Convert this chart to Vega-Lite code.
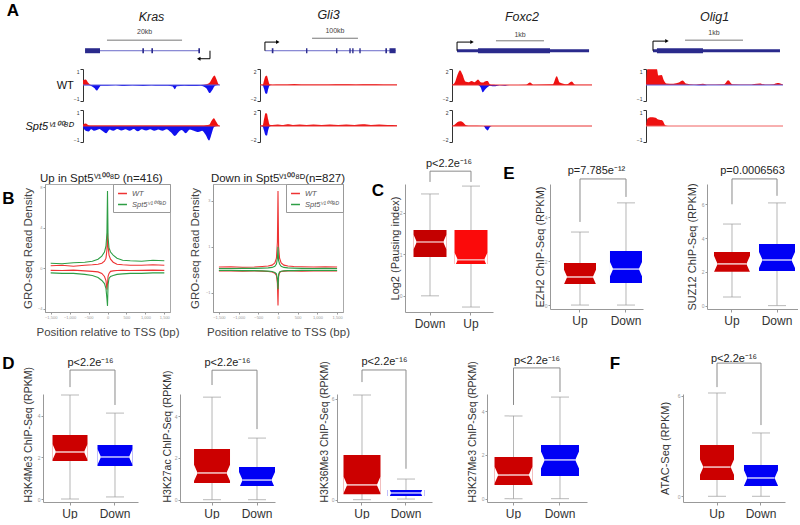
{
"$schema": "https://vega.github.io/schema/vega-lite/v6.json",
"padding": {"left": 0, "top": 2, "right": 0, "bottom": 0},
"config": {
 "font": "Liberation Sans",
 "view": {"stroke": null},
 "axis": {"grid": false, "domainColor": "#999999", "tickColor": "#999999", "labelColor": "#999999", "labelFontSize": 5, "tickSize": 2, "labelPadding": 1, "titleFontWeight": "normal", "titleFontSize": 11, "titleColor": "#333333"},
 "title": {"fontWeight": "normal", "fontSize": 11, "color": "#222222", "anchor": "middle", "frame": "group"}
},
"datasets": {
 "gm": [
  {"g":"Kras","k":"intron","x1":1.5,"x2":85.4},
  {"g":"Kras","k":"exon","x1":1.5,"x2":12.4},
  {"g":"Kras","k":"exon","x1":43.3,"x2":44.5},
  {"g":"Kras","k":"exon","x1":49.9,"x2":51.1},
  {"g":"Kras","k":"exon","x1":84.2,"x2":85.4},
  {"g":"Kras","k":"scale","x1":17.5,"x2":72.3},
  {"g":"Kras","k":"label","x1":45,"t":"20kb"},
  {"g":"Kras","k":"tss","x1":92.7,"x2":84.5},
  {"g":"Gli3","k":"intron","x1":3.6,"x2":99},
  {"g":"Gli3","k":"exon","x1":8.6,"x2":9.8},
  {"g":"Gli3","k":"exon","x1":33.6,"x2":34.6},
  {"g":"Gli3","k":"exon","x1":55.5,"x2":56.5},
  {"g":"Gli3","k":"exon","x1":65.2,"x2":66.2},
  {"g":"Gli3","k":"exon","x1":67.3,"x2":68.3},
  {"g":"Gli3","k":"exon","x1":72.5,"x2":73.5},
  {"g":"Gli3","k":"exon","x1":91.5,"x2":92.7},
  {"g":"Gli3","k":"exon","x1":94.5,"x2":99},
  {"g":"Gli3","k":"scale","x1":38,"x2":71.5},
  {"g":"Gli3","k":"label","x1":54.7,"t":"100kb"},
  {"g":"Gli3","k":"tss","x1":3.6,"x2":13},
  {"g":"Foxc2","k":"utr","x1":3.6,"x2":97.9},
  {"g":"Foxc2","k":"exon","x1":18.6,"x2":70},
  {"g":"Foxc2","k":"scale","x1":31.4,"x2":65.7},
  {"g":"Foxc2","k":"label","x1":48.6,"t":"1kb"},
  {"g":"Foxc2","k":"tss","x1":3.6,"x2":14.3},
  {"g":"Olig1","k":"utr","x1":5.1,"x2":97.8},
  {"g":"Olig1","k":"exon","x1":8,"x2":41.6},
  {"g":"Olig1","k":"scale","x1":28.5,"x2":70.8},
  {"g":"Olig1","k":"label","x1":49.6,"t":"1kb"},
  {"g":"Olig1","k":"tss","x1":5.1,"x2":15.3}
 ],
 "trk": [
  {"g":"Kras","s":"WT","x":0,"p":0.3,"m":0},
  {"g":"Kras","s":"WT","x":2,"p":0.35,"m":-0.02},
  {"g":"Kras","s":"WT","x":4,"p":0.12,"m":-0.02},
  {"g":"Kras","s":"WT","x":6,"p":0,"m":-0.06},
  {"g":"Kras","s":"WT","x":8.5,"p":0,"m":-0.2},
  {"g":"Kras","s":"WT","x":10,"p":0,"m":-0.35},
  {"g":"Kras","s":"WT","x":11.5,"p":0,"m":-0.2},
  {"g":"Kras","s":"WT","x":13,"p":0,"m":-0.04},
  {"g":"Kras","s":"WT","x":18,"p":0,"m":-0.05},
  {"g":"Kras","s":"WT","x":24,"p":0,"m":-0.02},
  {"g":"Kras","s":"WT","x":30,"p":0,"m":-0.07},
  {"g":"Kras","s":"WT","x":36,"p":0,"m":-0.03},
  {"g":"Kras","s":"WT","x":44,"p":0,"m":-0.06},
  {"g":"Kras","s":"WT","x":50,"p":0,"m":-0.03},
  {"g":"Kras","s":"WT","x":56,"p":0,"m":-0.05},
  {"g":"Kras","s":"WT","x":62,"p":0,"m":-0.04},
  {"g":"Kras","s":"WT","x":65.5,"p":0,"m":-0.1},
  {"g":"Kras","s":"WT","x":67,"p":0,"m":-0.26},
  {"g":"Kras","s":"WT","x":68.5,"p":0,"m":-0.08},
  {"g":"Kras","s":"WT","x":74,"p":0,"m":-0.04},
  {"g":"Kras","s":"WT","x":80,"p":0,"m":-0.06},
  {"g":"Kras","s":"WT","x":86,"p":0,"m":-0.04},
  {"g":"Kras","s":"WT","x":90,"p":0.04,"m":-0.2},
  {"g":"Kras","s":"WT","x":92.5,"p":0.15,"m":-0.5},
  {"g":"Kras","s":"WT","x":94.5,"p":0.45,"m":-0.3},
  {"g":"Kras","s":"WT","x":96,"p":0.6,"m":-0.08},
  {"g":"Kras","s":"WT","x":97.5,"p":0.35,"m":-0.02},
  {"g":"Kras","s":"WT","x":99,"p":0.05,"m":0},
  {"g":"Kras","s":"WT","x":100,"p":0,"m":0},
  {"g":"Kras","s":"Spt5","x":0,"p":0.1,"m":-0.1},
  {"g":"Kras","s":"Spt5","x":2,"p":0.15,"m":-0.3},
  {"g":"Kras","s":"Spt5","x":4,"p":0.05,"m":-0.35},
  {"g":"Kras","s":"Spt5","x":6,"p":0.03,"m":-0.2},
  {"g":"Kras","s":"Spt5","x":8,"p":0.03,"m":-0.3},
  {"g":"Kras","s":"Spt5","x":10,"p":0.03,"m":-0.25},
  {"g":"Kras","s":"Spt5","x":12,"p":0.03,"m":-0.18},
  {"g":"Kras","s":"Spt5","x":14,"p":0.03,"m":-0.3},
  {"g":"Kras","s":"Spt5","x":17,"p":0.03,"m":-0.45},
  {"g":"Kras","s":"Spt5","x":19.5,"p":0.03,"m":-0.22},
  {"g":"Kras","s":"Spt5","x":22,"p":0.03,"m":-0.3},
  {"g":"Kras","s":"Spt5","x":25,"p":0.03,"m":-0.18},
  {"g":"Kras","s":"Spt5","x":28,"p":0.03,"m":-0.28},
  {"g":"Kras","s":"Spt5","x":31,"p":0.03,"m":-0.2},
  {"g":"Kras","s":"Spt5","x":34,"p":0.03,"m":-0.3},
  {"g":"Kras","s":"Spt5","x":37,"p":0.03,"m":-0.18},
  {"g":"Kras","s":"Spt5","x":40,"p":0.03,"m":-0.33},
  {"g":"Kras","s":"Spt5","x":43,"p":0.03,"m":-0.2},
  {"g":"Kras","s":"Spt5","x":46,"p":0.03,"m":-0.28},
  {"g":"Kras","s":"Spt5","x":49,"p":0.03,"m":-0.2},
  {"g":"Kras","s":"Spt5","x":52,"p":0.03,"m":-0.3},
  {"g":"Kras","s":"Spt5","x":55,"p":0.03,"m":-0.22},
  {"g":"Kras","s":"Spt5","x":58,"p":0.03,"m":-0.3},
  {"g":"Kras","s":"Spt5","x":61,"p":0.03,"m":-0.2},
  {"g":"Kras","s":"Spt5","x":64,"p":0.03,"m":-0.38},
  {"g":"Kras","s":"Spt5","x":67,"p":0.03,"m":-0.62},
  {"g":"Kras","s":"Spt5","x":69.5,"p":0.03,"m":-0.4},
  {"g":"Kras","s":"Spt5","x":72,"p":0.03,"m":-0.25},
  {"g":"Kras","s":"Spt5","x":75,"p":0.03,"m":-0.45},
  {"g":"Kras","s":"Spt5","x":78,"p":0.03,"m":-0.22},
  {"g":"Kras","s":"Spt5","x":81,"p":0.03,"m":-0.3},
  {"g":"Kras","s":"Spt5","x":84,"p":0.03,"m":-0.38},
  {"g":"Kras","s":"Spt5","x":87,"p":0.03,"m":-0.3},
  {"g":"Kras","s":"Spt5","x":89.5,"p":0.05,"m":-0.55},
  {"g":"Kras","s":"Spt5","x":92,"p":0.08,"m":-0.9},
  {"g":"Kras","s":"Spt5","x":94,"p":0.35,"m":-0.45},
  {"g":"Kras","s":"Spt5","x":95.5,"p":0.48,"m":-0.08},
  {"g":"Kras","s":"Spt5","x":97,"p":0.3,"m":-0.02},
  {"g":"Kras","s":"Spt5","x":99,"p":0.05,"m":0},
  {"g":"Kras","s":"Spt5","x":100,"p":0,"m":0},
  {"g":"Gli3","s":"WT","x":0,"p":0.03,"m":0},
  {"g":"Gli3","s":"WT","x":2,"p":0.05,"m":-0.05},
  {"g":"Gli3","s":"WT","x":3,"p":0.6,"m":-0.5},
  {"g":"Gli3","s":"WT","x":4,"p":1.1,"m":-1.05},
  {"g":"Gli3","s":"WT","x":5,"p":1.15,"m":-1.1},
  {"g":"Gli3","s":"WT","x":6,"p":0.6,"m":-0.5},
  {"g":"Gli3","s":"WT","x":7,"p":0.1,"m":-0.05},
  {"g":"Gli3","s":"WT","x":9,"p":0.04,"m":0},
  {"g":"Gli3","s":"WT","x":15,"p":0.06,"m":0},
  {"g":"Gli3","s":"WT","x":20,"p":0.05,"m":0},
  {"g":"Gli3","s":"WT","x":25,"p":0.12,"m":0},
  {"g":"Gli3","s":"WT","x":30,"p":0.05,"m":0},
  {"g":"Gli3","s":"WT","x":40,"p":0.07,"m":0},
  {"g":"Gli3","s":"WT","x":50,"p":0.06,"m":0},
  {"g":"Gli3","s":"WT","x":60,"p":0.08,"m":0},
  {"g":"Gli3","s":"WT","x":70,"p":0.05,"m":0},
  {"g":"Gli3","s":"WT","x":80,"p":0.08,"m":0},
  {"g":"Gli3","s":"WT","x":90,"p":0.06,"m":0},
  {"g":"Gli3","s":"WT","x":100,"p":0.05,"m":0},
  {"g":"Gli3","s":"Spt5","x":0,"p":0.05,"m":0},
  {"g":"Gli3","s":"Spt5","x":2,"p":0.1,"m":-0.08},
  {"g":"Gli3","s":"Spt5","x":3,"p":0.9,"m":-0.6},
  {"g":"Gli3","s":"Spt5","x":4,"p":1.6,"m":-1.15},
  {"g":"Gli3","s":"Spt5","x":5,"p":1.55,"m":-1.2},
  {"g":"Gli3","s":"Spt5","x":6,"p":0.8,"m":-0.5},
  {"g":"Gli3","s":"Spt5","x":7,"p":0.15,"m":-0.05},
  {"g":"Gli3","s":"Spt5","x":9,"p":0.12,"m":0},
  {"g":"Gli3","s":"Spt5","x":13,"p":0.2,"m":0},
  {"g":"Gli3","s":"Spt5","x":16,"p":0.12,"m":0},
  {"g":"Gli3","s":"Spt5","x":20,"p":0.22,"m":0},
  {"g":"Gli3","s":"Spt5","x":24,"p":0.13,"m":0},
  {"g":"Gli3","s":"Spt5","x":29,"p":0.2,"m":0},
  {"g":"Gli3","s":"Spt5","x":34,"p":0.14,"m":0},
  {"g":"Gli3","s":"Spt5","x":39,"p":0.2,"m":0},
  {"g":"Gli3","s":"Spt5","x":45,"p":0.13,"m":0},
  {"g":"Gli3","s":"Spt5","x":51,"p":0.18,"m":0},
  {"g":"Gli3","s":"Spt5","x":57,"p":0.12,"m":0},
  {"g":"Gli3","s":"Spt5","x":63,"p":0.2,"m":0},
  {"g":"Gli3","s":"Spt5","x":69,"p":0.14,"m":0},
  {"g":"Gli3","s":"Spt5","x":75,"p":0.22,"m":0},
  {"g":"Gli3","s":"Spt5","x":81,"p":0.13,"m":0},
  {"g":"Gli3","s":"Spt5","x":87,"p":0.18,"m":0},
  {"g":"Gli3","s":"Spt5","x":93,"p":0.12,"m":0},
  {"g":"Gli3","s":"Spt5","x":100,"p":0.1,"m":0},
  {"g":"Foxc2","s":"WT","x":0,"p":0,"m":0},
  {"g":"Foxc2","s":"WT","x":2,"p":0.3,"m":0},
  {"g":"Foxc2","s":"WT","x":4,"p":1.3,"m":0},
  {"g":"Foxc2","s":"WT","x":5.7,"p":1.85,"m":0},
  {"g":"Foxc2","s":"WT","x":7.5,"p":1.3,"m":0},
  {"g":"Foxc2","s":"WT","x":9.5,"p":0.45,"m":0},
  {"g":"Foxc2","s":"WT","x":12,"p":0.35,"m":0},
  {"g":"Foxc2","s":"WT","x":14,"p":0.5,"m":0},
  {"g":"Foxc2","s":"WT","x":16,"p":0.35,"m":0},
  {"g":"Foxc2","s":"WT","x":18.6,"p":0.7,"m":0},
  {"g":"Foxc2","s":"WT","x":20.5,"p":0.35,"m":-0.3},
  {"g":"Foxc2","s":"WT","x":22,"p":0.3,"m":-0.9},
  {"g":"Foxc2","s":"WT","x":23.5,"p":0.45,"m":-0.6},
  {"g":"Foxc2","s":"WT","x":25.5,"p":0.5,"m":-0.25},
  {"g":"Foxc2","s":"WT","x":27,"p":0.1,"m":-0.08},
  {"g":"Foxc2","s":"WT","x":29,"p":0.02,"m":-0.15},
  {"g":"Foxc2","s":"WT","x":31,"p":0,"m":-0.15},
  {"g":"Foxc2","s":"WT","x":34,"p":0,"m":-0.04},
  {"g":"Foxc2","s":"WT","x":38,"p":0,"m":-0.08},
  {"g":"Foxc2","s":"WT","x":41,"p":0,"m":0},
  {"g":"Foxc2","s":"WT","x":53,"p":0.04,"m":0},
  {"g":"Foxc2","s":"WT","x":55.7,"p":0.3,"m":0},
  {"g":"Foxc2","s":"WT","x":58,"p":0.04,"m":0},
  {"g":"Foxc2","s":"WT","x":72,"p":0.08,"m":0},
  {"g":"Foxc2","s":"WT","x":74.8,"p":1.1,"m":0},
  {"g":"Foxc2","s":"WT","x":77,"p":0.3,"m":0},
  {"g":"Foxc2","s":"WT","x":82,"p":0.08,"m":0},
  {"g":"Foxc2","s":"WT","x":85.5,"p":0.45,"m":0},
  {"g":"Foxc2","s":"WT","x":88,"p":0.04,"m":0},
  {"g":"Foxc2","s":"WT","x":100,"p":0.02,"m":0},
  {"g":"Foxc2","s":"Spt5","x":0,"p":0,"m":0},
  {"g":"Foxc2","s":"Spt5","x":2,"p":0.2,"m":0},
  {"g":"Foxc2","s":"Spt5","x":4,"p":0.5,"m":0},
  {"g":"Foxc2","s":"Spt5","x":6,"p":0.6,"m":0},
  {"g":"Foxc2","s":"Spt5","x":8,"p":0.45,"m":0},
  {"g":"Foxc2","s":"Spt5","x":10,"p":0.1,"m":0},
  {"g":"Foxc2","s":"Spt5","x":13,"p":0.02,"m":0},
  {"g":"Foxc2","s":"Spt5","x":22.5,"p":0,"m":0},
  {"g":"Foxc2","s":"Spt5","x":24,"p":0,"m":-0.35},
  {"g":"Foxc2","s":"Spt5","x":25.5,"p":0,"m":-0.55},
  {"g":"Foxc2","s":"Spt5","x":27,"p":0,"m":-0.15},
  {"g":"Foxc2","s":"Spt5","x":28.5,"p":0,"m":0},
  {"g":"Foxc2","s":"Spt5","x":100,"p":0.01,"m":0},
  {"g":"Olig1","s":"WT","x":0,"p":0,"m":0},
  {"g":"Olig1","s":"WT","x":1,"p":0.98,"m":0},
  {"g":"Olig1","s":"WT","x":8,"p":0.98,"m":0},
  {"g":"Olig1","s":"WT","x":9,"p":0.6,"m":0},
  {"g":"Olig1","s":"WT","x":11.4,"p":0.62,"m":0},
  {"g":"Olig1","s":"WT","x":13,"p":0.3,"m":0},
  {"g":"Olig1","s":"WT","x":15,"p":0.1,"m":0},
  {"g":"Olig1","s":"WT","x":20,"p":0.08,"m":0},
  {"g":"Olig1","s":"WT","x":24,"p":0.15,"m":0},
  {"g":"Olig1","s":"WT","x":26.8,"p":0.28,"m":0},
  {"g":"Olig1","s":"WT","x":29,"p":0.1,"m":0},
  {"g":"Olig1","s":"WT","x":35,"p":0.03,"m":0},
  {"g":"Olig1","s":"WT","x":41.6,"p":0.08,"m":-0.02},
  {"g":"Olig1","s":"WT","x":45,"p":0.03,"m":0},
  {"g":"Olig1","s":"WT","x":57,"p":0.05,"m":0},
  {"g":"Olig1","s":"WT","x":60,"p":0.3,"m":0},
  {"g":"Olig1","s":"WT","x":63,"p":0.05,"m":0},
  {"g":"Olig1","s":"WT","x":75,"p":0.03,"m":0},
  {"g":"Olig1","s":"WT","x":83,"p":0.1,"m":0},
  {"g":"Olig1","s":"WT","x":87,"p":0.03,"m":0},
  {"g":"Olig1","s":"WT","x":93,"p":0.05,"m":0},
  {"g":"Olig1","s":"WT","x":96,"p":0.12,"m":0},
  {"g":"Olig1","s":"WT","x":100,"p":0.03,"m":0},
  {"g":"Olig1","s":"Spt5","x":0,"p":0,"m":0},
  {"g":"Olig1","s":"Spt5","x":1,"p":0.45,"m":0},
  {"g":"Olig1","s":"Spt5","x":3,"p":0.55,"m":0},
  {"g":"Olig1","s":"Spt5","x":7,"p":0.52,"m":0},
  {"g":"Olig1","s":"Spt5","x":9,"p":0.4,"m":0},
  {"g":"Olig1","s":"Spt5","x":12,"p":0.35,"m":0},
  {"g":"Olig1","s":"Spt5","x":14,"p":0.05,"m":0},
  {"g":"Olig1","s":"Spt5","x":16,"p":0,"m":0},
  {"g":"Olig1","s":"Spt5","x":100,"p":0,"m":0}
 ],
 "gro": [
  {"p":"B1","s":"WT","x":-1500,"u":0.25,"d":-0.2},
  {"p":"B1","s":"WT","x":-1200,"u":0.3,"d":-0.22},
  {"p":"B1","s":"WT","x":-900,"u":0.2,"d":-0.18},
  {"p":"B1","s":"WT","x":-600,"u":0.3,"d":-0.25},
  {"p":"B1","s":"WT","x":-400,"u":0.35,"d":-0.3},
  {"p":"B1","s":"WT","x":-250,"u":0.4,"d":-0.35},
  {"p":"B1","s":"WT","x":-150,"u":0.5,"d":-0.5},
  {"p":"B1","s":"WT","x":-80,"u":0.7,"d":-0.8},
  {"p":"B1","s":"WT","x":-40,"u":1.0,"d":-1.2},
  {"p":"B1","s":"WT","x":-15,"u":1.8,"d":-2.1},
  {"p":"B1","s":"WT","x":0,"u":3.5,"d":-1.5},
  {"p":"B1","s":"WT","x":15,"u":2.2,"d":-0.8},
  {"p":"B1","s":"WT","x":40,"u":1.3,"d":-0.5},
  {"p":"B1","s":"WT","x":80,"u":0.9,"d":-0.3},
  {"p":"B1","s":"WT","x":150,"u":0.6,"d":-0.25},
  {"p":"B1","s":"WT","x":250,"u":0.4,"d":-0.22},
  {"p":"B1","s":"WT","x":400,"u":0.35,"d":-0.2},
  {"p":"B1","s":"WT","x":600,"u":0.3,"d":-0.22},
  {"p":"B1","s":"WT","x":900,"u":0.3,"d":-0.2},
  {"p":"B1","s":"WT","x":1200,"u":0.35,"d":-0.18},
  {"p":"B1","s":"WT","x":1500,"u":0.3,"d":-0.2},
  {"p":"B1","s":"Spt5ⱽ¹⁰⁰⁸ᴰ","x":-1500,"u":0.5,"d":-0.45},
  {"p":"B1","s":"Spt5ⱽ¹⁰⁰⁸ᴰ","x":-1200,"u":0.45,"d":-0.5},
  {"p":"B1","s":"Spt5ⱽ¹⁰⁰⁸ᴰ","x":-900,"u":0.55,"d":-0.5},
  {"p":"B1","s":"Spt5ⱽ¹⁰⁰⁸ᴰ","x":-600,"u":0.6,"d":-0.6},
  {"p":"B1","s":"Spt5ⱽ¹⁰⁰⁸ᴰ","x":-400,"u":0.7,"d":-0.7},
  {"p":"B1","s":"Spt5ⱽ¹⁰⁰⁸ᴰ","x":-250,"u":0.9,"d":-0.9},
  {"p":"B1","s":"Spt5ⱽ¹⁰⁰⁸ᴰ","x":-150,"u":1.2,"d":-1.2},
  {"p":"B1","s":"Spt5ⱽ¹⁰⁰⁸ᴰ","x":-80,"u":1.6,"d":-1.5},
  {"p":"B1","s":"Spt5ⱽ¹⁰⁰⁸ᴰ","x":-40,"u":2.2,"d":-2.0},
  {"p":"B1","s":"Spt5ⱽ¹⁰⁰⁸ᴰ","x":-15,"u":3.5,"d":-3.0},
  {"p":"B1","s":"Spt5ⱽ¹⁰⁰⁸ᴰ","x":0,"u":7.6,"d":-3.7},
  {"p":"B1","s":"Spt5ⱽ¹⁰⁰⁸ᴰ","x":15,"u":3.0,"d":-1.6},
  {"p":"B1","s":"Spt5ⱽ¹⁰⁰⁸ᴰ","x":40,"u":2.0,"d":-1.0},
  {"p":"B1","s":"Spt5ⱽ¹⁰⁰⁸ᴰ","x":80,"u":1.6,"d":-0.8},
  {"p":"B1","s":"Spt5ⱽ¹⁰⁰⁸ᴰ","x":150,"u":1.3,"d":-0.7},
  {"p":"B1","s":"Spt5ⱽ¹⁰⁰⁸ᴰ","x":250,"u":1.0,"d":-0.6},
  {"p":"B1","s":"Spt5ⱽ¹⁰⁰⁸ᴰ","x":400,"u":0.8,"d":-0.55},
  {"p":"B1","s":"Spt5ⱽ¹⁰⁰⁸ᴰ","x":600,"u":0.75,"d":-0.5},
  {"p":"B1","s":"Spt5ⱽ¹⁰⁰⁸ᴰ","x":900,"u":0.7,"d":-0.5},
  {"p":"B1","s":"Spt5ⱽ¹⁰⁰⁸ᴰ","x":1200,"u":0.8,"d":-0.45},
  {"p":"B1","s":"Spt5ⱽ¹⁰⁰⁸ᴰ","x":1500,"u":0.75,"d":-0.45},
  {"p":"B2","s":"WT","x":-1500,"u":0.12,"d":-0.05},
  {"p":"B2","s":"WT","x":-1200,"u":0.13,"d":-0.05},
  {"p":"B2","s":"WT","x":-900,"u":0.11,"d":-0.06},
  {"p":"B2","s":"WT","x":-600,"u":0.12,"d":-0.05},
  {"p":"B2","s":"WT","x":-400,"u":0.14,"d":-0.06},
  {"p":"B2","s":"WT","x":-250,"u":0.16,"d":-0.08},
  {"p":"B2","s":"WT","x":-150,"u":0.2,"d":-0.1},
  {"p":"B2","s":"WT","x":-80,"u":0.3,"d":-0.15},
  {"p":"B2","s":"WT","x":-40,"u":0.5,"d":-0.25},
  {"p":"B2","s":"WT","x":-15,"u":1.2,"d":-0.6},
  {"p":"B2","s":"WT","x":0,"u":3.43,"d":-1.56},
  {"p":"B2","s":"WT","x":15,"u":1.0,"d":-0.3},
  {"p":"B2","s":"WT","x":40,"u":0.5,"d":-0.12},
  {"p":"B2","s":"WT","x":80,"u":0.3,"d":-0.08},
  {"p":"B2","s":"WT","x":150,"u":0.2,"d":-0.06},
  {"p":"B2","s":"WT","x":250,"u":0.16,"d":-0.05},
  {"p":"B2","s":"WT","x":400,"u":0.14,"d":-0.05},
  {"p":"B2","s":"WT","x":600,"u":0.13,"d":-0.06},
  {"p":"B2","s":"WT","x":900,"u":0.12,"d":-0.05},
  {"p":"B2","s":"WT","x":1200,"u":0.13,"d":-0.05},
  {"p":"B2","s":"WT","x":1500,"u":0.12,"d":-0.05},
  {"p":"B2","s":"Spt5ⱽ¹⁰⁰⁸ᴰ","x":-1500,"u":0.05,"d":-0.03},
  {"p":"B2","s":"Spt5ⱽ¹⁰⁰⁸ᴰ","x":-1200,"u":0.05,"d":-0.03},
  {"p":"B2","s":"Spt5ⱽ¹⁰⁰⁸ᴰ","x":-900,"u":0.06,"d":-0.04},
  {"p":"B2","s":"Spt5ⱽ¹⁰⁰⁸ᴰ","x":-600,"u":0.06,"d":-0.04},
  {"p":"B2","s":"Spt5ⱽ¹⁰⁰⁸ᴰ","x":-400,"u":0.07,"d":-0.05},
  {"p":"B2","s":"Spt5ⱽ¹⁰⁰⁸ᴰ","x":-250,"u":0.08,"d":-0.06},
  {"p":"B2","s":"Spt5ⱽ¹⁰⁰⁸ᴰ","x":-150,"u":0.1,"d":-0.08},
  {"p":"B2","s":"Spt5ⱽ¹⁰⁰⁸ᴰ","x":-80,"u":0.15,"d":-0.12},
  {"p":"B2","s":"Spt5ⱽ¹⁰⁰⁸ᴰ","x":-40,"u":0.25,"d":-0.18},
  {"p":"B2","s":"Spt5ⱽ¹⁰⁰⁸ᴰ","x":-15,"u":0.5,"d":-0.4},
  {"p":"B2","s":"Spt5ⱽ¹⁰⁰⁸ᴰ","x":0,"u":1.0,"d":-0.85},
  {"p":"B2","s":"Spt5ⱽ¹⁰⁰⁸ᴰ","x":15,"u":0.4,"d":-0.2},
  {"p":"B2","s":"Spt5ⱽ¹⁰⁰⁸ᴰ","x":40,"u":0.25,"d":-0.1},
  {"p":"B2","s":"Spt5ⱽ¹⁰⁰⁸ᴰ","x":80,"u":0.15,"d":-0.07},
  {"p":"B2","s":"Spt5ⱽ¹⁰⁰⁸ᴰ","x":150,"u":0.1,"d":-0.05},
  {"p":"B2","s":"Spt5ⱽ¹⁰⁰⁸ᴰ","x":250,"u":0.08,"d":-0.04},
  {"p":"B2","s":"Spt5ⱽ¹⁰⁰⁸ᴰ","x":400,"u":0.07,"d":-0.04},
  {"p":"B2","s":"Spt5ⱽ¹⁰⁰⁸ᴰ","x":600,"u":0.06,"d":-0.03},
  {"p":"B2","s":"Spt5ⱽ¹⁰⁰⁸ᴰ","x":900,"u":0.05,"d":-0.03},
  {"p":"B2","s":"Spt5ⱽ¹⁰⁰⁸ᴰ","x":1200,"u":0.06,"d":-0.03},
  {"p":"B2","s":"Spt5ⱽ¹⁰⁰⁸ᴰ","x":1500,"u":0.05,"d":-0.03}
 ],
 "box": [
  {"pn":"C","grp":"Down","lo":0,"q1":0.94,"med":1.3,"q3":1.59,"hi":2.46,"leg":2.75,"top":3.01},
  {"pn":"C","grp":"Up","lo":-0.27,"q1":0.77,"med":0.87,"q3":1.59,"hi":2.65,"leg":2.75,"top":3.01},
  {"pn":"E1","grp":"Up","lo":0,"q1":0.96,"med":1.28,"q3":1.92,"hi":3.33,"leg":3.79,"top":5.75},
  {"pn":"E1","grp":"Down","lo":0,"q1":1.0,"med":1.64,"q3":2.47,"hi":4.66,"leg":4.93,"top":5.75},
  {"pn":"E2","grp":"Up","lo":0.51,"q1":2.0,"med":2.47,"q3":3.18,"hi":4.83,"leg":6.0,"top":7.5},
  {"pn":"E2","grp":"Down","lo":0,"q1":2.05,"med":2.7,"q3":3.65,"hi":6.08,"leg":6.5,"top":7.5},
  {"pn":"D1","grp":"Up","lo":0,"q1":1.83,"med":2.26,"q3":3.08,"hi":5.0,"leg":5.38,"top":6.2},
  {"pn":"D1","grp":"Down","lo":0.1,"q1":1.59,"med":2.02,"q3":2.6,"hi":4.13,"leg":4.52,"top":6.2},
  {"pn":"D2","grp":"Up","lo":0,"q1":0.8,"med":1.28,"q3":2.43,"hi":4.91,"leg":5.49,"top":6.2},
  {"pn":"D2","grp":"Down","lo":0,"q1":0.66,"med":0.94,"q3":1.56,"hi":2.95,"leg":3.38,"top":6.2},
  {"pn":"D3","grp":"Up","lo":0,"q1":0.32,"med":0.88,"q3":2.66,"hi":6.23,"leg":7.0,"top":7.72},
  {"pn":"D3","grp":"Down","lo":0.04,"q1":0.22,"med":0.4,"q3":0.58,"hi":1.23,"leg":1.84,"top":7.72},
  {"pn":"D4","grp":"Up","lo":0,"q1":0.63,"med":1.08,"q3":1.9,"hi":3.78,"leg":4.28,"top":5.97},
  {"pn":"D4","grp":"Down","lo":0,"q1":1.04,"med":1.77,"q3":2.45,"hi":4.64,"leg":4.87,"top":5.97},
  {"pn":"F","grp":"Up","lo":0,"q1":0.97,"med":1.74,"q3":3.05,"hi":6.15,"leg":6.5,"top":7.93},
  {"pn":"F","grp":"Down","lo":0,"q1":0.61,"med":1.09,"q3":1.86,"hi":3.77,"leg":4.24,"top":7.93}
 ]
},
"spacing": 7,
"bounds": "full",
"resolve": {"scale": {"color": "independent"}, "legend": {"color": "independent"}},
"vconcat": [
 {"hconcat": [
  {"width": 68, "height": 32, "data": {"values": [{"t": "A"}]}, "mark": {"type": "text", "fontSize": 17, "fontWeight": "bold", "color": "#000000", "dx": -21, "dy": -33}, "encoding": {"text": {"field": "t", "type": "nominal"}}},
  {"width": 137, "height": 32, "title": {"text": "Kras", "fontStyle": "italic", "fontSize": 12.5, "offset": 5},
   "data": {"name": "gm"}, "transform": [{"filter": "datum.g === 'Kras'"}],
   "layer": [
    {"transform": [{"filter": "datum.k === 'intron'"}], "mark": {"type": "rule", "color": "#6b6bc9", "strokeWidth": 1}, "encoding": {"x": {"field": "x1", "type": "quantitative", "scale": {"domain": [0, 100], "nice": false}, "axis": null}, "x2": {"field": "x2"}, "y": {"datum": 2.9, "type": "quantitative", "scale": {"domain": [0, 10]}, "axis": null}}},
    {"transform": [{"filter": "datum.k === 'exon'"}], "mark": {"type": "rule", "color": "#2a2a8c", "strokeWidth": 5}, "encoding": {"x": {"field": "x1", "type": "quantitative", "axis": null}, "x2": {"field": "x2"}, "y": {"datum": 2.9, "type": "quantitative", "axis": null}}},
    {"transform": [{"filter": "datum.k === 'scale'"}], "mark": {"type": "rule", "color": "#777777", "strokeWidth": 1}, "encoding": {"x": {"field": "x1", "type": "quantitative", "axis": null}, "x2": {"field": "x2"}, "y": {"datum": 6.2, "type": "quantitative", "axis": null}}},
    {"transform": [{"filter": "datum.k === 'label'"}], "mark": {"type": "text", "fontSize": 7, "color": "#444444"}, "encoding": {"x": {"field": "x1", "type": "quantitative", "axis": null}, "y": {"datum": 8.6, "type": "quantitative", "axis": null}, "text": {"field": "t", "type": "nominal"}}},
    {"transform": [{"filter": "datum.k === 'tss'"}], "mark": {"type": "rule", "color": "#000000", "strokeWidth": 1}, "encoding": {"x": {"field": "x1", "type": "quantitative", "axis": null}, "y": {"datum": 2.9, "type": "quantitative", "axis": null}, "y2": {"datum": 0.4}}},
    {"transform": [{"filter": "datum.k === 'tss'"}], "mark": {"type": "rule", "color": "#000000", "strokeWidth": 1}, "encoding": {"x": {"field": "x1", "type": "quantitative", "axis": null}, "x2": {"field": "x2"}, "y": {"datum": 0.4, "type": "quantitative", "axis": null}}},
    {"transform": [{"filter": "datum.k === 'tss'"}], "mark": {"type": "point", "shape": "triangle-left", "filled": true, "color": "#000000", "size": 16, "opacity": 1}, "encoding": {"x": {"field": "x2", "type": "quantitative", "axis": null}, "y": {"datum": 0.4, "type": "quantitative", "axis": null}}}
   ]},
  {"width": 10, "height": 32, "data": {"values": [{"t": ""}]}, "mark": "text", "encoding": {"text": {"field": "t", "type": "nominal"}}},
  {"width": 137, "height": 32, "title": {"text": "Gli3", "fontStyle": "italic", "fontSize": 12.5, "offset": 5},
   "data": {"name": "gm"}, "transform": [{"filter": "datum.g === 'Gli3'"}],
   "layer": [
    {"transform": [{"filter": "datum.k === 'intron'"}], "mark": {"type": "rule", "color": "#6b6bc9", "strokeWidth": 1}, "encoding": {"x": {"field": "x1", "type": "quantitative", "scale": {"domain": [0, 100], "nice": false}, "axis": null}, "x2": {"field": "x2"}, "y": {"datum": 2.9, "type": "quantitative", "scale": {"domain": [0, 10]}, "axis": null}}},
    {"transform": [{"filter": "datum.k === 'exon'"}], "mark": {"type": "rule", "color": "#2a2a8c", "strokeWidth": 5}, "encoding": {"x": {"field": "x1", "type": "quantitative", "axis": null}, "x2": {"field": "x2"}, "y": {"datum": 2.9, "type": "quantitative", "axis": null}}},
    {"transform": [{"filter": "datum.k === 'scale'"}], "mark": {"type": "rule", "color": "#777777", "strokeWidth": 1}, "encoding": {"x": {"field": "x1", "type": "quantitative", "axis": null}, "x2": {"field": "x2"}, "y": {"datum": 6.8, "type": "quantitative", "axis": null}}},
    {"transform": [{"filter": "datum.k === 'label'"}], "mark": {"type": "text", "fontSize": 7, "color": "#444444"}, "encoding": {"x": {"field": "x1", "type": "quantitative", "axis": null}, "y": {"datum": 9.2, "type": "quantitative", "axis": null}, "text": {"field": "t", "type": "nominal"}}},
    {"transform": [{"filter": "datum.k === 'tss'"}], "mark": {"type": "rule", "color": "#000000", "strokeWidth": 1}, "encoding": {"x": {"field": "x1", "type": "quantitative", "axis": null}, "y": {"datum": 2.9, "type": "quantitative", "axis": null}, "y2": {"datum": 5.6}}},
    {"transform": [{"filter": "datum.k === 'tss'"}], "mark": {"type": "rule", "color": "#000000", "strokeWidth": 1}, "encoding": {"x": {"field": "x1", "type": "quantitative", "axis": null}, "x2": {"field": "x2"}, "y": {"datum": 5.6, "type": "quantitative", "axis": null}}},
    {"transform": [{"filter": "datum.k === 'tss'"}], "mark": {"type": "point", "shape": "triangle-right", "filled": true, "color": "#000000", "size": 16, "opacity": 1}, "encoding": {"x": {"field": "x2", "type": "quantitative", "axis": null}, "y": {"datum": 5.6, "type": "quantitative", "axis": null}}}
   ]},
  {"width": 25, "height": 32, "data": {"values": [{"t": ""}]}, "mark": "text", "encoding": {"text": {"field": "t", "type": "nominal"}}},
  {"width": 140, "height": 32, "title": {"text": "Foxc2", "fontStyle": "italic", "fontSize": 12.5, "offset": 5},
   "data": {"name": "gm"}, "transform": [{"filter": "datum.g === 'Foxc2'"}],
   "layer": [
    {"transform": [{"filter": "datum.k === 'utr'"}], "mark": {"type": "rule", "color": "#2a2a8c", "strokeWidth": 3}, "encoding": {"x": {"field": "x1", "type": "quantitative", "scale": {"domain": [0, 100], "nice": false}, "axis": null}, "x2": {"field": "x2"}, "y": {"datum": 2.9, "type": "quantitative", "scale": {"domain": [0, 10]}, "axis": null}}},
    {"transform": [{"filter": "datum.k === 'exon'"}], "mark": {"type": "rule", "color": "#2a2a8c", "strokeWidth": 5}, "encoding": {"x": {"field": "x1", "type": "quantitative", "axis": null}, "x2": {"field": "x2"}, "y": {"datum": 2.9, "type": "quantitative", "axis": null}}},
    {"transform": [{"filter": "datum.k === 'scale'"}], "mark": {"type": "rule", "color": "#777777", "strokeWidth": 1}, "encoding": {"x": {"field": "x1", "type": "quantitative", "axis": null}, "x2": {"field": "x2"}, "y": {"datum": 6.0, "type": "quantitative", "axis": null}}},
    {"transform": [{"filter": "datum.k === 'label'"}], "mark": {"type": "text", "fontSize": 7, "color": "#444444"}, "encoding": {"x": {"field": "x1", "type": "quantitative", "axis": null}, "y": {"datum": 7.9, "type": "quantitative", "axis": null}, "text": {"field": "t", "type": "nominal"}}},
    {"transform": [{"filter": "datum.k === 'tss'"}], "mark": {"type": "rule", "color": "#000000", "strokeWidth": 1}, "encoding": {"x": {"field": "x1", "type": "quantitative", "axis": null}, "y": {"datum": 2.9, "type": "quantitative", "axis": null}, "y2": {"datum": 5.6}}},
    {"transform": [{"filter": "datum.k === 'tss'"}], "mark": {"type": "rule", "color": "#000000", "strokeWidth": 1}, "encoding": {"x": {"field": "x1", "type": "quantitative", "axis": null}, "x2": {"field": "x2"}, "y": {"datum": 5.6, "type": "quantitative", "axis": null}}},
    {"transform": [{"filter": "datum.k === 'tss'"}], "mark": {"type": "point", "shape": "triangle-right", "filled": true, "color": "#000000", "size": 16, "opacity": 1}, "encoding": {"x": {"field": "x2", "type": "quantitative", "axis": null}, "y": {"datum": 5.6, "type": "quantitative", "axis": null}}}
   ]},
  {"width": 24, "height": 32, "data": {"values": [{"t": ""}]}, "mark": "text", "encoding": {"text": {"field": "t", "type": "nominal"}}},
  {"width": 137, "height": 32, "title": {"text": "Olig1", "fontStyle": "italic", "fontSize": 12.5, "offset": 5},
   "data": {"name": "gm"}, "transform": [{"filter": "datum.g === 'Olig1'"}],
   "layer": [
    {"transform": [{"filter": "datum.k === 'utr'"}], "mark": {"type": "rule", "color": "#2a2a8c", "strokeWidth": 3}, "encoding": {"x": {"field": "x1", "type": "quantitative", "scale": {"domain": [0, 100], "nice": false}, "axis": null}, "x2": {"field": "x2"}, "y": {"datum": 2.9, "type": "quantitative", "scale": {"domain": [0, 10]}, "axis": null}}},
    {"transform": [{"filter": "datum.k === 'exon'"}], "mark": {"type": "rule", "color": "#2a2a8c", "strokeWidth": 5}, "encoding": {"x": {"field": "x1", "type": "quantitative", "axis": null}, "x2": {"field": "x2"}, "y": {"datum": 2.9, "type": "quantitative", "axis": null}}},
    {"transform": [{"filter": "datum.k === 'scale'"}], "mark": {"type": "rule", "color": "#777777", "strokeWidth": 1}, "encoding": {"x": {"field": "x1", "type": "quantitative", "axis": null}, "x2": {"field": "x2"}, "y": {"datum": 6.2, "type": "quantitative", "axis": null}}},
    {"transform": [{"filter": "datum.k === 'label'"}], "mark": {"type": "text", "fontSize": 7, "color": "#444444"}, "encoding": {"x": {"field": "x1", "type": "quantitative", "axis": null}, "y": {"datum": 8.3, "type": "quantitative", "axis": null}, "text": {"field": "t", "type": "nominal"}}},
    {"transform": [{"filter": "datum.k === 'tss'"}], "mark": {"type": "rule", "color": "#000000", "strokeWidth": 1}, "encoding": {"x": {"field": "x1", "type": "quantitative", "axis": null}, "y": {"datum": 2.9, "type": "quantitative", "axis": null}, "y2": {"datum": 5.9}}},
    {"transform": [{"filter": "datum.k === 'tss'"}], "mark": {"type": "rule", "color": "#000000", "strokeWidth": 1}, "encoding": {"x": {"field": "x1", "type": "quantitative", "axis": null}, "x2": {"field": "x2"}, "y": {"datum": 5.9, "type": "quantitative", "axis": null}}},
    {"transform": [{"filter": "datum.k === 'tss'"}], "mark": {"type": "point", "shape": "triangle-right", "filled": true, "color": "#000000", "size": 16, "opacity": 1}, "encoding": {"x": {"field": "x2", "type": "quantitative", "axis": null}, "y": {"datum": 5.9, "type": "quantitative", "axis": null}}}
   ]}
 ], "spacing": 15, "bounds": "flush"},
 {"hconcat": [
  {"width": 68, "height": 32, "data": {"values": [{"t": ""}]}, "mark": "text", "encoding": {"text": {"field": "t", "type": "nominal"}}},
  {"width": 137, "height": 32, "data": {"name": "trk"}, "transform": [{"filter": "datum.g === 'Kras' && datum.s === 'WT'"}],
   "layer": [
    {"mark": {"type": "area", "color": "#ee1111", "interpolate": "monotone"}, "encoding": {"x": {"field": "x", "type": "quantitative", "scale": {"domain": [0, 100], "nice": false}, "axis": null}, "y": {"field": "p", "type": "quantitative", "scale": {"domain": [-1, 1], "nice": false}, "axis": {"values": [-1, 1], "labelFontSize": 5, "labelColor": "#333333", "labelFlush": true, "tickSize": 3, "domainColor": "#333333", "tickColor": "#333333", "labelPadding": 1, "title": "WT", "titleAngle": 0, "titleAlign": "right", "titleBaseline": "middle", "titleFontSize": 11, "titleColor": "#111111", "titlePadding": 0}}}},
    {"mark": {"type": "area", "color": "#1111ee", "interpolate": "monotone"}, "encoding": {"x": {"field": "x", "type": "quantitative", "axis": null}, "y": {"field": "m", "type": "quantitative"}}},
    {"transform": [{"filter": "datum.x === 0"}], "mark": {"type": "rule", "color": "#6060dd", "strokeWidth": 1}, "encoding": {"y": {"datum": 0, "type": "quantitative"}}}
   ]},
  {"width": 10, "height": 32, "data": {"values": [{"t": ""}]}, "mark": "text", "encoding": {"text": {"field": "t", "type": "nominal"}}},
  {"width": 137, "height": 32, "data": {"name": "trk"}, "transform": [{"filter": "datum.g === 'Gli3' && datum.s === 'WT'"}],
   "layer": [
    {"mark": {"type": "area", "color": "#ee1111", "interpolate": "monotone"}, "encoding": {"x": {"field": "x", "type": "quantitative", "scale": {"domain": [0, 100], "nice": false}, "axis": null}, "y": {"field": "p", "type": "quantitative", "scale": {"domain": [-2, 2], "nice": false}, "axis": {"values": [-2, 2], "labelFontSize": 5, "labelColor": "#333333", "labelFlush": true, "tickSize": 3, "domainColor": "#333333", "tickColor": "#333333", "labelPadding": 1, "title": null}}}},
    {"mark": {"type": "area", "color": "#1111ee", "interpolate": "monotone"}, "encoding": {"x": {"field": "x", "type": "quantitative", "axis": null}, "y": {"field": "m", "type": "quantitative"}}},
    {"transform": [{"filter": "datum.x === 0"}], "mark": {"type": "rule", "color": "#e83030", "strokeWidth": 1}, "encoding": {"y": {"datum": 0, "type": "quantitative"}}}
   ]},
  {"width": 25, "height": 32, "data": {"values": [{"t": ""}]}, "mark": "text", "encoding": {"text": {"field": "t", "type": "nominal"}}},
  {"width": 140, "height": 32, "data": {"name": "trk"}, "transform": [{"filter": "datum.g === 'Foxc2' && datum.s === 'WT'"}],
   "layer": [
    {"mark": {"type": "area", "color": "#ee1111", "interpolate": "monotone"}, "encoding": {"x": {"field": "x", "type": "quantitative", "scale": {"domain": [0, 100], "nice": false}, "axis": null}, "y": {"field": "p", "type": "quantitative", "scale": {"domain": [-2, 2], "nice": false}, "axis": {"values": [-2, 2], "labelFontSize": 5, "labelColor": "#333333", "labelFlush": true, "tickSize": 3, "domainColor": "#333333", "tickColor": "#333333", "labelPadding": 1, "title": null}}}},
    {"mark": {"type": "area", "color": "#1111ee", "interpolate": "monotone"}, "encoding": {"x": {"field": "x", "type": "quantitative", "axis": null}, "y": {"field": "m", "type": "quantitative"}}},
    {"transform": [{"filter": "datum.x === 0"}], "mark": {"type": "rule", "color": "#e83030", "strokeWidth": 1}, "encoding": {"y": {"datum": 0, "type": "quantitative"}}}
   ]},
  {"width": 24, "height": 32, "data": {"values": [{"t": ""}]}, "mark": "text", "encoding": {"text": {"field": "t", "type": "nominal"}}},
  {"width": 137, "height": 32, "data": {"name": "trk"}, "transform": [{"filter": "datum.g === 'Olig1' && datum.s === 'WT'"}],
   "layer": [
    {"mark": {"type": "area", "color": "#ee1111", "interpolate": "monotone"}, "encoding": {"x": {"field": "x", "type": "quantitative", "scale": {"domain": [0, 100], "nice": false}, "axis": null}, "y": {"field": "p", "type": "quantitative", "scale": {"domain": [-1, 1], "nice": false}, "axis": {"values": [-1, 1], "labelFontSize": 5, "labelColor": "#333333", "labelFlush": true, "tickSize": 3, "domainColor": "#333333", "tickColor": "#333333", "labelPadding": 1, "title": null}}}},
    {"mark": {"type": "area", "color": "#1111ee", "interpolate": "monotone"}, "encoding": {"x": {"field": "x", "type": "quantitative", "axis": null}, "y": {"field": "m", "type": "quantitative"}}},
    {"transform": [{"filter": "datum.x === 0"}], "mark": {"type": "rule", "color": "#6060dd", "strokeWidth": 1}, "encoding": {"y": {"datum": 0, "type": "quantitative"}}}
   ]}
 ], "spacing": 15, "bounds": "flush"},
 {"hconcat": [
  {"width": 68, "height": 40, "data": {"values": [{"t": ""}]}, "mark": "text", "encoding": {"text": {"field": "t", "type": "nominal"}}},
  {"width": 137, "height": 32, "data": {"name": "trk"}, "transform": [{"filter": "datum.g === 'Kras' && datum.s === 'Spt5'"}],
   "layer": [
    {"mark": {"type": "area", "color": "#ee1111", "interpolate": "monotone"}, "encoding": {"x": {"field": "x", "type": "quantitative", "scale": {"domain": [0, 100], "nice": false}, "axis": null}, "y": {"field": "p", "type": "quantitative", "scale": {"domain": [-1, 1], "nice": false}, "axis": {"values": [-1, 1], "labelFontSize": 5, "labelColor": "#333333", "labelFlush": true, "tickSize": 3, "domainColor": "#333333", "tickColor": "#333333", "labelPadding": 1, "title": "Spt5ⱽ¹⁰⁰⁸ᴰ", "titleAngle": 0, "titleAlign": "right", "titleBaseline": "middle", "titleFontSize": 11, "titleFontStyle": "italic", "titleColor": "#111111", "titlePadding": 0}}}},
    {"mark": {"type": "area", "color": "#1111ee", "interpolate": "monotone"}, "encoding": {"x": {"field": "x", "type": "quantitative", "axis": null}, "y": {"field": "m", "type": "quantitative"}}},
    {"transform": [{"filter": "datum.x === 0"}], "mark": {"type": "rule", "color": "#e83030", "strokeWidth": 1}, "encoding": {"y": {"datum": 0, "type": "quantitative"}}}
   ]},
  {"width": 10, "height": 32, "data": {"values": [{"t": ""}]}, "mark": "text", "encoding": {"text": {"field": "t", "type": "nominal"}}},
  {"width": 137, "height": 32, "data": {"name": "trk"}, "transform": [{"filter": "datum.g === 'Gli3' && datum.s === 'Spt5'"}],
   "layer": [
    {"mark": {"type": "area", "color": "#ee1111", "interpolate": "monotone"}, "encoding": {"x": {"field": "x", "type": "quantitative", "scale": {"domain": [0, 100], "nice": false}, "axis": null}, "y": {"field": "p", "type": "quantitative", "scale": {"domain": [-2, 2], "nice": false}, "axis": {"values": [-2, 2], "labelFontSize": 5, "labelColor": "#333333", "labelFlush": true, "tickSize": 3, "domainColor": "#333333", "tickColor": "#333333", "labelPadding": 1, "title": null}}}},
    {"mark": {"type": "area", "color": "#1111ee", "interpolate": "monotone"}, "encoding": {"x": {"field": "x", "type": "quantitative", "axis": null}, "y": {"field": "m", "type": "quantitative"}}},
    {"transform": [{"filter": "datum.x === 0"}], "mark": {"type": "rule", "color": "#e83030", "strokeWidth": 1}, "encoding": {"y": {"datum": 0, "type": "quantitative"}}}
   ]},
  {"width": 25, "height": 32, "data": {"values": [{"t": ""}]}, "mark": "text", "encoding": {"text": {"field": "t", "type": "nominal"}}},
  {"width": 140, "height": 32, "data": {"name": "trk"}, "transform": [{"filter": "datum.g === 'Foxc2' && datum.s === 'Spt5'"}],
   "layer": [
    {"mark": {"type": "area", "color": "#ee1111", "interpolate": "monotone"}, "encoding": {"x": {"field": "x", "type": "quantitative", "scale": {"domain": [0, 100], "nice": false}, "axis": null}, "y": {"field": "p", "type": "quantitative", "scale": {"domain": [-2, 2], "nice": false}, "axis": {"values": [-2, 2], "labelFontSize": 5, "labelColor": "#333333", "labelFlush": true, "tickSize": 3, "domainColor": "#333333", "tickColor": "#333333", "labelPadding": 1, "title": null}}}},
    {"mark": {"type": "area", "color": "#1111ee", "interpolate": "monotone"}, "encoding": {"x": {"field": "x", "type": "quantitative", "axis": null}, "y": {"field": "m", "type": "quantitative"}}},
    {"transform": [{"filter": "datum.x === 0"}], "mark": {"type": "rule", "color": "#e83030", "strokeWidth": 1}, "encoding": {"y": {"datum": 0, "type": "quantitative"}}}
   ]},
  {"width": 24, "height": 32, "data": {"values": [{"t": ""}]}, "mark": "text", "encoding": {"text": {"field": "t", "type": "nominal"}}},
  {"width": 137, "height": 32, "data": {"name": "trk"}, "transform": [{"filter": "datum.g === 'Olig1' && datum.s === 'Spt5'"}],
   "layer": [
    {"mark": {"type": "area", "color": "#ee1111", "interpolate": "monotone"}, "encoding": {"x": {"field": "x", "type": "quantitative", "scale": {"domain": [0, 100], "nice": false}, "axis": null}, "y": {"field": "p", "type": "quantitative", "scale": {"domain": [-1, 1], "nice": false}, "axis": {"values": [-1, 1], "labelFontSize": 5, "labelColor": "#333333", "labelFlush": true, "tickSize": 3, "domainColor": "#333333", "tickColor": "#333333", "labelPadding": 1, "title": null}}}},
    {"mark": {"type": "area", "color": "#1111ee", "interpolate": "monotone"}, "encoding": {"x": {"field": "x", "type": "quantitative", "axis": null}, "y": {"field": "m", "type": "quantitative"}}},
    {"transform": [{"filter": "datum.x === 0"}], "mark": {"type": "rule", "color": "#f06060", "strokeWidth": 1}, "encoding": {"y": {"datum": 0, "type": "quantitative"}}}
   ]}
 ], "spacing": 15, "bounds": "flush"},
 {"hconcat": [
  {"width": 24, "height": 30, "data": {"values": [{"t": "B"}]}, "mark": {"type": "text", "fontSize": 17, "fontWeight": "bold", "color": "#000000", "dx": -3.5}, "encoding": {"text": {"field": "t", "type": "nominal"}}},
  {"width": 125, "height": 128, "view": {"stroke": "#aaaaaa"},
   "title": {"text": "Up in Spt5ⱽ¹⁰⁰⁸ᴰ (n=416)", "anchor": "start", "dx": -5, "offset": -1, "fontSize": 11.5},
   "data": {"name": "gro"}, "transform": [{"filter": "datum.p === 'B1'"}],
   "encoding": {
    "x": {"field": "x", "type": "quantitative", "scale": {"domain": [-1650, 1650], "nice": false}, "axis": {"values": [-1500, -1000, -500, 0, 500, 1000, 1500], "title": "Position relative to TSS (bp)", "labelFontSize": 4, "tickSize": 2, "titleFontSize": 11.5, "titlePadding": 7, "titleColor": "#444444"}},
    "color": {"field": "s", "type": "nominal", "scale": {"domain": ["WT", "Spt5ⱽ¹⁰⁰⁸ᴰ"], "range": ["#ee3333", "#2e9e45"]}, "legend": {"title": null, "orient": "top-right", "offset": 0, "padding": 4, "strokeColor": "#999999", "fillColor": "#ffffff", "labelFontSize": 7.5, "labelFontStyle": "italic", "labelColor": "#555555", "symbolType": "stroke", "symbolSize": 80, "symbolStrokeWidth": 1.5, "rowPadding": 2}}
   },
   "layer": [
    {"mark": {"type": "line", "strokeWidth": 1.1}, "encoding": {"y": {"field": "u", "type": "quantitative", "scale": {"domain": [-4.3, 8.3], "nice": false, "zero": false}, "axis": {"values": [-4, -2, 0, 2, 4, 6, 8], "title": "GRO-seq Read Density", "titleFontSize": 11.5, "titlePadding": 3.5, "titleColor": "#444444", "labelFontSize": 4}}}},
    {"mark": {"type": "line", "strokeWidth": 1.1}, "encoding": {"y": {"field": "d", "type": "quantitative"}}}
   ]},
  {"width": 1, "height": 161, "data": {"values": [{"t": ""}]}, "mark": "text", "encoding": {"text": {"field": "t", "type": "nominal"}}},
  {"width": 130, "height": 128, "view": {"stroke": "#aaaaaa"},
   "title": {"text": "Down in Spt5ⱽ¹⁰⁰⁸ᴰ(n=827)", "anchor": "middle", "offset": -1, "fontSize": 11.5},
   "data": {"name": "gro"}, "transform": [{"filter": "datum.p === 'B2'"}],
   "encoding": {
    "x": {"field": "x", "type": "quantitative", "scale": {"domain": [-1650, 1650], "nice": false}, "axis": {"values": [-1500, -1000, -500, 0, 500, 1000, 1500], "title": "Position relative to TSS (bp)", "labelFontSize": 4, "tickSize": 2, "titleFontSize": 11.5, "titlePadding": 7, "titleColor": "#444444"}},
    "color": {"field": "s", "type": "nominal", "scale": {"domain": ["WT", "Spt5ⱽ¹⁰⁰⁸ᴰ"], "range": ["#ee3333", "#2e9e45"]}, "legend": {"title": null, "orient": "top-right", "offset": 0, "padding": 4, "strokeColor": "#999999", "fillColor": "#ffffff", "labelFontSize": 7.5, "labelFontStyle": "italic", "labelColor": "#555555", "symbolType": "stroke", "symbolSize": 80, "symbolStrokeWidth": 1.5, "rowPadding": 2}}
   },
   "layer": [
    {"mark": {"type": "line", "strokeWidth": 1.1}, "encoding": {"y": {"field": "u", "type": "quantitative", "scale": {"domain": [-1.84, 3.73], "nice": false, "zero": false}, "axis": {"values": [-1, 0, 1, 2, 3], "title": "GRO-seq Read Density", "titleFontSize": 11.5, "titlePadding": 4.5, "titleColor": "#444444", "labelFontSize": 4}}}},
    {"mark": {"type": "line", "strokeWidth": 1.1}, "encoding": {"y": {"field": "d", "type": "quantitative"}}}
   ]},
  {"width": 20, "height": 14, "data": {"values": [{"t": "C"}]}, "mark": {"type": "text", "fontSize": 17, "fontWeight": "bold", "color": "#000000", "dx": 4}, "encoding": {"text": {"field": "t", "type": "nominal"}}},
  {"width": 88, "height": 128, "title": {"text": "p<2.2e⁻¹⁶", "offset": 2},
   "data": {"name": "box"}, "transform": [{"filter": "datum.pn === 'C'"}],
   "encoding": {"x": {"field": "grp", "type": "nominal", "scale": {"domain": ["Down", "Up"], "paddingInner": 0.195, "paddingOuter": 0.171, "align": 0.607}, "axis": {"title": null, "labelFontSize": 12, "labelColor": "#333333", "labelAngle": 0, "tickSize": 3, "labelPadding": 3, "domainColor": "#999999"}}},
   "layer": [
    {"mark": {"type": "rule", "color": "#b5b5b5"}, "encoding": {"y": {"field": "lo", "type": "quantitative", "scale": {"domain": [-0.39, 2.7], "nice": false, "zero": false}, "axis": {"values": [0, 1, 2], "title": "Log2 (Pausing index)", "titlePadding": -1.5}}, "y2": {"field": "hi"}}},
    {"mark": {"type": "tick", "color": "#9a9a9a", "size": 18, "thickness": 1}, "encoding": {"y": {"field": "lo", "type": "quantitative"}}},
    {"mark": {"type": "tick", "color": "#9a9a9a", "size": 18, "thickness": 1}, "encoding": {"y": {"field": "hi", "type": "quantitative"}}},
    {"mark": {"type": "bar"}, "encoding": {"y": {"field": "q1", "type": "quantitative"}, "y2": {"field": "q3"}, "color": {"field": "grp", "type": "nominal", "scale": {"domain": ["Down", "Up"], "range": ["#c40000", "#fb0a0a"]}, "legend": null}}},
    {"mark": {"type": "point", "shape": "M -1 -0.45 L -0.8 0 L -1 0.45 Z M 1 -0.45 L 0.8 0 L 1 0.45 Z", "filled": true, "color": "#ffffff", "opacity": 1, "size": 1089, "strokeWidth": 0}, "encoding": {"y": {"field": "med", "type": "quantitative"}}},
    {"mark": {"type": "tick", "color": "#f3c4c4", "opacity": 0.9, "size": 27, "thickness": 1.5}, "encoding": {"y": {"field": "med", "type": "quantitative"}}},
    {"mark": {"type": "rule", "color": "#8a8a8a"}, "encoding": {"y": {"field": "leg", "type": "quantitative"}, "y2": {"field": "top"}}},
    {"transform": [{"filter": "datum.grp === 'Up'"}], "mark": {"type": "rule", "color": "#8a8a8a"}, "encoding": {"x": {"datum": "Down"}, "x2": {"datum": "Up"}, "y": {"field": "top", "type": "quantitative"}}}
   ]},
  {"width": 15, "height": 1, "data": {"values": [{"t": "E"}]}, "mark": {"type": "text", "fontSize": 17, "fontWeight": "bold", "color": "#000000", "dx": -12.5, "dy": -10.5}, "encoding": {"text": {"field": "t", "type": "nominal"}}},
  {"width": 93, "height": 125, "title": {"text": "p=7.785e⁻¹²", "offset": 2},
   "data": {"name": "box"}, "transform": [{"filter": "datum.pn === 'E1'"}],
   "encoding": {"x": {"field": "grp", "type": "nominal", "scale": {"domain": ["Up", "Down"], "paddingInner": 0.304, "paddingOuter": 0.163, "align": 0.933}, "axis": {"title": null, "labelFontSize": 12, "labelColor": "#333333", "labelAngle": 0, "tickSize": 3, "labelPadding": 3, "domainColor": "#999999"}}},
   "layer": [
    {"mark": {"type": "rule", "color": "#b5b5b5"}, "encoding": {"y": {"field": "lo", "type": "quantitative", "scale": {"domain": [-0.18, 5.52], "nice": false, "zero": false}, "axis": {"values": [0, 1, 2, 3, 4], "title": "EZH2 ChIP-Seq (RPKM)", "titlePadding": -1.5}}, "y2": {"field": "hi"}}},
    {"mark": {"type": "tick", "color": "#9a9a9a", "size": 18, "thickness": 1}, "encoding": {"y": {"field": "lo", "type": "quantitative"}}},
    {"mark": {"type": "tick", "color": "#9a9a9a", "size": 18, "thickness": 1}, "encoding": {"y": {"field": "hi", "type": "quantitative"}}},
    {"mark": {"type": "bar"}, "encoding": {"y": {"field": "q1", "type": "quantitative"}, "y2": {"field": "q3"}, "color": {"field": "grp", "type": "nominal", "scale": {"domain": ["Up", "Down"], "range": ["#cc0000", "#0000f5"]}, "legend": null}}},
    {"mark": {"type": "point", "shape": "M -1 -0.45 L -0.8 0 L -1 0.45 Z M 1 -0.45 L 0.8 0 L 1 0.45 Z", "filled": true, "color": "#ffffff", "opacity": 1, "size": 1024, "strokeWidth": 0}, "encoding": {"y": {"field": "med", "type": "quantitative"}}},
    {"mark": {"type": "tick", "color": "#ffffff", "opacity": 0.8, "size": 26, "thickness": 1.5}, "encoding": {"y": {"field": "med", "type": "quantitative"}}},
    {"mark": {"type": "rule", "color": "#8a8a8a"}, "encoding": {"y": {"field": "leg", "type": "quantitative"}, "y2": {"field": "top"}}},
    {"transform": [{"filter": "datum.grp === 'Up'"}], "mark": {"type": "rule", "color": "#8a8a8a"}, "encoding": {"x": {"datum": "Up"}, "x2": {"datum": "Down"}, "y": {"field": "top", "type": "quantitative"}}}
   ]},
  {"width": 22, "height": 60, "data": {"values": [{"t": ""}]}, "mark": "text", "encoding": {"text": {"field": "t", "type": "nominal"}}},
  {"width": 91, "height": 125, "title": {"text": "p=0.0006563", "offset": 2},
   "data": {"name": "box"}, "transform": [{"filter": "datum.pn === 'E2'"}],
   "encoding": {"x": {"field": "grp", "type": "nominal", "scale": {"domain": ["Up", "Down"], "paddingInner": 0.2, "paddingOuter": 0.111, "align": 0.7}, "axis": {"title": null, "labelFontSize": 12, "labelColor": "#333333", "labelAngle": 0, "tickSize": 3, "labelPadding": 3, "domainColor": "#999999"}}},
   "layer": [
    {"mark": {"type": "rule", "color": "#b5b5b5"}, "encoding": {"y": {"field": "lo", "type": "quantitative", "scale": {"domain": [-0.2, 7.2], "nice": false, "zero": false}, "axis": {"values": [0, 1, 2, 3, 4, 5, 6], "title": "SUZ12 ChIP-Seq (RPKM)", "titlePadding": 3.5}}, "y2": {"field": "hi"}}},
    {"mark": {"type": "tick", "color": "#9a9a9a", "size": 18, "thickness": 1}, "encoding": {"y": {"field": "lo", "type": "quantitative"}}},
    {"mark": {"type": "tick", "color": "#9a9a9a", "size": 18, "thickness": 1}, "encoding": {"y": {"field": "hi", "type": "quantitative"}}},
    {"mark": {"type": "bar"}, "encoding": {"y": {"field": "q1", "type": "quantitative"}, "y2": {"field": "q3"}, "color": {"field": "grp", "type": "nominal", "scale": {"domain": ["Up", "Down"], "range": ["#cc0000", "#0000f5"]}, "legend": null}}},
    {"mark": {"type": "point", "shape": "M -1 -0.45 L -0.8 0 L -1 0.45 Z M 1 -0.45 L 0.8 0 L 1 0.45 Z", "filled": true, "color": "#ffffff", "opacity": 1, "size": 1296, "strokeWidth": 0}, "encoding": {"y": {"field": "med", "type": "quantitative"}}},
    {"mark": {"type": "tick", "color": "#ffffff", "opacity": 0.8, "size": 29, "thickness": 1.5}, "encoding": {"y": {"field": "med", "type": "quantitative"}}},
    {"mark": {"type": "rule", "color": "#8a8a8a"}, "encoding": {"y": {"field": "leg", "type": "quantitative"}, "y2": {"field": "top"}}},
    {"transform": [{"filter": "datum.grp === 'Up'"}], "mark": {"type": "rule", "color": "#8a8a8a"}, "encoding": {"x": {"datum": "Up"}, "x2": {"datum": "Down"}, "y": {"field": "top", "type": "quantitative"}}}
   ]}
 ], "spacing": 21, "bounds": "flush", "resolve": {"scale": {"color": "independent"}, "legend": {"color": "independent"}}},
 {"hconcat": [
  {"width": 23, "height": 2, "data": {"values": [{"t": "D"}]}, "mark": {"type": "text", "fontSize": 17, "fontWeight": "bold", "color": "#000000", "dx": -3, "dy": -31}, "encoding": {"text": {"field": "t", "type": "nominal"}}},
  {"width": 95, "height": 108, "title": {"text": "p<2.2e⁻¹⁶", "offset": -1},
   "data": {"name": "box"}, "transform": [{"filter": "datum.pn === 'D1'"}],
   "encoding": {"x": {"field": "grp", "type": "nominal", "scale": {"domain": ["Up", "Down"], "paddingInner": 0.222, "paddingOuter": 0.167, "align": 0.633}, "axis": {"title": null, "labelFontSize": 12, "labelColor": "#333333", "labelAngle": 0, "tickSize": 3, "labelPadding": 3, "domainColor": "#999999"}}},
   "layer": [
    {"mark": {"type": "rule", "color": "#b5b5b5"}, "encoding": {"y": {"field": "lo", "type": "quantitative", "scale": {"domain": [-0.144, 5.048], "nice": false, "zero": false}, "axis": {"values": [0, 1, 2, 3, 4, 5], "title": "H3K4Me3 ChIP-Seq (RPKM)", "titlePadding": 3.5, "titleAnchor": "start", "titleFontSize": 10.5}}, "y2": {"field": "hi"}}},
    {"mark": {"type": "tick", "color": "#9a9a9a", "size": 18, "thickness": 1}, "encoding": {"y": {"field": "lo", "type": "quantitative"}}},
    {"mark": {"type": "tick", "color": "#9a9a9a", "size": 18, "thickness": 1}, "encoding": {"y": {"field": "hi", "type": "quantitative"}}},
    {"mark": {"type": "bar"}, "encoding": {"y": {"field": "q1", "type": "quantitative"}, "y2": {"field": "q3"}, "color": {"field": "grp", "type": "nominal", "scale": {"domain": ["Up", "Down"], "range": ["#cc0000", "#0000f5"]}, "legend": null}}},
    {"mark": {"type": "point", "shape": "M -1 -0.45 L -0.8 0 L -1 0.45 Z M 1 -0.45 L 0.8 0 L 1 0.45 Z", "filled": true, "color": "#ffffff", "opacity": 1, "size": 1225, "strokeWidth": 0}, "encoding": {"y": {"field": "med", "type": "quantitative"}}},
    {"mark": {"type": "tick", "color": "#ffffff", "opacity": 0.8, "size": 28, "thickness": 1.5}, "encoding": {"y": {"field": "med", "type": "quantitative"}}},
    {"mark": {"type": "rule", "color": "#8a8a8a"}, "encoding": {"y": {"field": "leg", "type": "quantitative"}, "y2": {"field": "top"}}},
    {"transform": [{"filter": "datum.grp === 'Up'"}], "mark": {"type": "rule", "color": "#8a8a8a"}, "encoding": {"x": {"datum": "Up"}, "x2": {"datum": "Down"}, "y": {"field": "top", "type": "quantitative"}}}
   ]},
  {"width": 2, "height": 60, "data": {"values": [{"t": ""}]}, "mark": "text", "encoding": {"text": {"field": "t", "type": "nominal"}}},
  {"width": 95, "height": 108, "title": {"text": "p<2.2e⁻¹⁶", "offset": 2},
   "data": {"name": "box"}, "transform": [{"filter": "datum.pn === 'D2'"}],
   "encoding": {"x": {"field": "grp", "type": "nominal", "scale": {"domain": ["Up", "Down"], "paddingInner": 0.2, "paddingOuter": 0.156, "align": 1}, "axis": {"title": null, "labelFontSize": 12, "labelColor": "#333333", "labelAngle": 0, "tickSize": 3, "labelPadding": 3, "domainColor": "#999999"}}},
   "layer": [
    {"mark": {"type": "rule", "color": "#b5b5b5"}, "encoding": {"y": {"field": "lo", "type": "quantitative", "scale": {"domain": [-0.11, 5.06], "nice": false, "zero": false}, "axis": {"values": [0, 1, 2, 3, 4, 5], "title": "H3K27ac ChIP-Seq (RPKM)", "titlePadding": 1.5, "titleAnchor": "start", "titleFontSize": 10.5}}, "y2": {"field": "hi"}}},
    {"mark": {"type": "tick", "color": "#9a9a9a", "size": 18, "thickness": 1}, "encoding": {"y": {"field": "lo", "type": "quantitative"}}},
    {"mark": {"type": "tick", "color": "#9a9a9a", "size": 18, "thickness": 1}, "encoding": {"y": {"field": "hi", "type": "quantitative"}}},
    {"mark": {"type": "bar"}, "encoding": {"y": {"field": "q1", "type": "quantitative"}, "y2": {"field": "q3"}, "color": {"field": "grp", "type": "nominal", "scale": {"domain": ["Up", "Down"], "range": ["#cc0000", "#0000f5"]}, "legend": null}}},
    {"mark": {"type": "point", "shape": "M -1 -0.45 L -0.8 0 L -1 0.45 Z M 1 -0.45 L 0.8 0 L 1 0.45 Z", "filled": true, "color": "#ffffff", "opacity": 1, "size": 1296, "strokeWidth": 0}, "encoding": {"y": {"field": "med", "type": "quantitative"}}},
    {"mark": {"type": "tick", "color": "#ffffff", "opacity": 0.8, "size": 29, "thickness": 1.5}, "encoding": {"y": {"field": "med", "type": "quantitative"}}},
    {"mark": {"type": "rule", "color": "#8a8a8a"}, "encoding": {"y": {"field": "leg", "type": "quantitative"}, "y2": {"field": "top"}}},
    {"transform": [{"filter": "datum.grp === 'Up'"}], "mark": {"type": "rule", "color": "#8a8a8a"}, "encoding": {"x": {"datum": "Up"}, "x2": {"datum": "Down"}, "y": {"field": "top", "type": "quantitative"}}}
   ]},
  {"width": 22, "height": 60, "data": {"values": [{"t": ""}]}, "mark": "text", "encoding": {"text": {"field": "t", "type": "nominal"}}},
  {"width": 95, "height": 108, "title": {"text": "p<2.2e⁻¹⁶", "offset": -6},
   "data": {"name": "box"}, "transform": [{"filter": "datum.pn === 'D3'"}],
   "encoding": {"x": {"field": "grp", "type": "nominal", "scale": {"domain": ["Up", "Down"], "paddingInner": 0.159, "paddingOuter": 0.159, "align": 0.464}, "axis": {"title": null, "labelFontSize": 12, "labelColor": "#333333", "labelAngle": 0, "tickSize": 3, "labelPadding": 3, "domainColor": "#999999"}}},
   "layer": [
    {"mark": {"type": "rule", "color": "#b5b5b5"}, "encoding": {"y": {"field": "lo", "type": "quantitative", "scale": {"domain": [-0.137, 6.29], "nice": false, "zero": false}, "axis": {"values": [0, 1, 2, 3, 4, 5, 6], "title": "H3K36Me3 ChIP-Seq (RPKM)", "titlePadding": 2, "titleAnchor": "start", "titleFontSize": 10.5}}, "y2": {"field": "hi"}}},
    {"mark": {"type": "tick", "color": "#9a9a9a", "size": 18, "thickness": 1}, "encoding": {"y": {"field": "lo", "type": "quantitative"}}},
    {"mark": {"type": "tick", "color": "#9a9a9a", "size": 18, "thickness": 1}, "encoding": {"y": {"field": "hi", "type": "quantitative"}}},
    {"mark": {"type": "bar"}, "encoding": {"y": {"field": "q1", "type": "quantitative"}, "y2": {"field": "q3"}, "color": {"field": "grp", "type": "nominal", "scale": {"domain": ["Up", "Down"], "range": ["#cc0000", "#0000f5"]}, "legend": null}}},
    {"mark": {"type": "point", "shape": "M -1 -0.45 L -0.8 0 L -1 0.45 Z M 1 -0.45 L 0.8 0 L 1 0.45 Z", "filled": true, "color": "#ffffff", "opacity": 1, "size": 1369, "strokeWidth": 0}, "encoding": {"y": {"field": "med", "type": "quantitative"}}},
    {"mark": {"type": "tick", "color": "#ffffff", "opacity": 0.8, "size": 30, "thickness": 1.5}, "encoding": {"y": {"field": "med", "type": "quantitative"}}},
    {"mark": {"type": "rule", "color": "#8a8a8a"}, "encoding": {"y": {"field": "leg", "type": "quantitative"}, "y2": {"field": "top"}}},
    {"transform": [{"filter": "datum.grp === 'Up'"}], "mark": {"type": "rule", "color": "#8a8a8a"}, "encoding": {"x": {"datum": "Up"}, "x2": {"datum": "Down"}, "y": {"field": "top", "type": "quantitative"}}}
   ]},
  {"width": 15, "height": 60, "data": {"values": [{"t": ""}]}, "mark": "text", "encoding": {"text": {"field": "t", "type": "nominal"}}},
  {"width": 100, "height": 108, "title": {"text": "p<2.2e⁻¹⁶", "offset": -5},
   "data": {"name": "box"}, "transform": [{"filter": "datum.pn === 'D4'"}],
   "encoding": {"x": {"field": "grp", "type": "nominal", "scale": {"domain": ["Up", "Down"], "paddingInner": 0.183, "paddingOuter": 0.167, "align": 0.484}, "axis": {"title": null, "labelFontSize": 12, "labelColor": "#333333", "labelAngle": 0, "tickSize": 3, "labelPadding": 3, "domainColor": "#999999"}}},
   "layer": [
    {"mark": {"type": "rule", "color": "#b5b5b5"}, "encoding": {"y": {"field": "lo", "type": "quantitative", "scale": {"domain": [-0.151, 4.78], "nice": false, "zero": false}, "axis": {"values": [0, 1, 2, 3, 4], "title": "H3K27Me3 ChIP-Seq (RPKM)", "titlePadding": 4, "titleAnchor": "start", "titleFontSize": 10.5}}, "y2": {"field": "hi"}}},
    {"mark": {"type": "tick", "color": "#9a9a9a", "size": 18, "thickness": 1}, "encoding": {"y": {"field": "lo", "type": "quantitative"}}},
    {"mark": {"type": "tick", "color": "#9a9a9a", "size": 18, "thickness": 1}, "encoding": {"y": {"field": "hi", "type": "quantitative"}}},
    {"mark": {"type": "bar"}, "encoding": {"y": {"field": "q1", "type": "quantitative"}, "y2": {"field": "q3"}, "color": {"field": "grp", "type": "nominal", "scale": {"domain": ["Up", "Down"], "range": ["#cc0000", "#0000f5"]}, "legend": null}}},
    {"mark": {"type": "point", "shape": "M -1 -0.45 L -0.8 0 L -1 0.45 Z M 1 -0.45 L 0.8 0 L 1 0.45 Z", "filled": true, "color": "#ffffff", "opacity": 1, "size": 1444, "strokeWidth": 0}, "encoding": {"y": {"field": "med", "type": "quantitative"}}},
    {"mark": {"type": "tick", "color": "#ffffff", "opacity": 0.8, "size": 31, "thickness": 1.5}, "encoding": {"y": {"field": "med", "type": "quantitative"}}},
    {"mark": {"type": "rule", "color": "#8a8a8a"}, "encoding": {"y": {"field": "leg", "type": "quantitative"}, "y2": {"field": "top"}}},
    {"transform": [{"filter": "datum.grp === 'Up'"}], "mark": {"type": "rule", "color": "#8a8a8a"}, "encoding": {"x": {"datum": "Up"}, "x2": {"datum": "Down"}, "y": {"field": "top", "type": "quantitative"}}}
   ]},
  {"width": 56, "height": 2, "data": {"values": [{"t": "F"}]}, "mark": {"type": "text", "fontSize": 17, "fontWeight": "bold", "color": "#000000", "dx": -20, "dy": -31}, "encoding": {"text": {"field": "t", "type": "nominal"}}},
  {"width": 102, "height": 108, "title": {"text": "p<2.2e⁻¹⁶", "offset": -1},
   "data": {"name": "box"}, "transform": [{"filter": "datum.pn === 'F'"}],
   "encoding": {"x": {"field": "grp", "type": "nominal", "scale": {"domain": ["Up", "Down"], "paddingInner": 0.227, "paddingOuter": 0.273, "align": 0.708}, "axis": {"title": null, "labelFontSize": 12, "labelColor": "#333333", "labelAngle": 0, "tickSize": 3, "labelPadding": 3, "domainColor": "#999999"}}},
   "layer": [
    {"mark": {"type": "rule", "color": "#b5b5b5"}, "encoding": {"y": {"field": "lo", "type": "quantitative", "scale": {"domain": [-0.34, 6.09], "nice": false, "zero": false}, "axis": {"values": [0, 1, 2, 3, 4, 5, 6], "title": "ATAC-Seq (RPKM)", "titlePadding": 6.5}}, "y2": {"field": "hi"}}},
    {"mark": {"type": "tick", "color": "#9a9a9a", "size": 18, "thickness": 1}, "encoding": {"y": {"field": "lo", "type": "quantitative"}}},
    {"mark": {"type": "tick", "color": "#9a9a9a", "size": 18, "thickness": 1}, "encoding": {"y": {"field": "hi", "type": "quantitative"}}},
    {"mark": {"type": "bar"}, "encoding": {"y": {"field": "q1", "type": "quantitative"}, "y2": {"field": "q3"}, "color": {"field": "grp", "type": "nominal", "scale": {"domain": ["Up", "Down"], "range": ["#cc0000", "#0000f5"]}, "legend": null}}},
    {"mark": {"type": "point", "shape": "M -1 -0.45 L -0.8 0 L -1 0.45 Z M 1 -0.45 L 0.8 0 L 1 0.45 Z", "filled": true, "color": "#ffffff", "opacity": 1, "size": 1156, "strokeWidth": 0}, "encoding": {"y": {"field": "med", "type": "quantitative"}}},
    {"mark": {"type": "tick", "color": "#ffffff", "opacity": 0.8, "size": 27, "thickness": 1.5}, "encoding": {"y": {"field": "med", "type": "quantitative"}}},
    {"mark": {"type": "rule", "color": "#8a8a8a"}, "encoding": {"y": {"field": "leg", "type": "quantitative"}, "y2": {"field": "top"}}},
    {"transform": [{"filter": "datum.grp === 'Up'"}], "mark": {"type": "rule", "color": "#8a8a8a"}, "encoding": {"x": {"datum": "Up"}, "x2": {"datum": "Down"}, "y": {"field": "top", "type": "quantitative"}}}
   ]}
 ], "spacing": 20, "bounds": "flush", "resolve": {"scale": {"color": "independent"}, "legend": {"color": "independent"}}}
]
}
